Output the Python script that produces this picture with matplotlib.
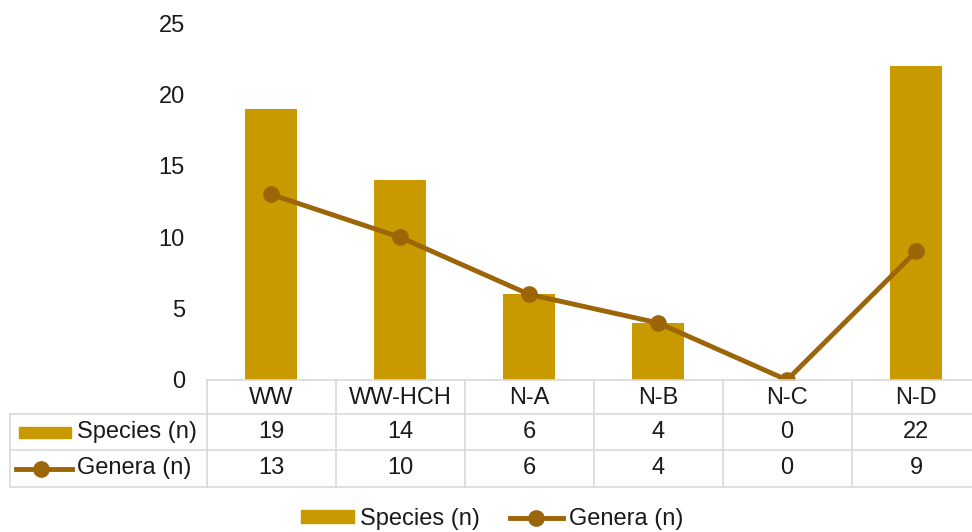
import matplotlib
matplotlib.use("Agg")
import matplotlib.pyplot as plt
from matplotlib.patches import Patch, Rectangle
from matplotlib.lines import Line2D

categories = ["WW", "WW-HCH", "N-A", "N-B", "N-C", "N-D"]
species = [19, 14, 6, 4, 0, 22]
genera = [13, 10, 6, 4, 0, 9]
series_names = ["Species (n)", "Genera (n)"]
yticks = [0, 5, 10, 15, 20, 25]

plt.rcParams['font.family'] = ['Liberation Sans', 'DejaVu Sans']
FS = 17
BAR_C = '#C99A00'
LINE_C = '#9C6508'
GRID_C = '#D9D9D9'
TXT_C = '#1a1a1a'
LW = 3.5
MS = 11

W, H = 972, 532
fig = plt.figure(figsize=(W / 100, H / 100), dpi=100)

def fx(px):
    return px / W

def fy(py):
    return py / H

# main plot area
ax = fig.add_axes([fx(206.5), fy(H - 380), fx(774), fy(357)])
x = list(range(len(categories)))
ax.bar(x, species, width=0.4, color=BAR_C, zorder=2)
ax.plot(x, genera, color=LINE_C, lw=LW, marker='o', markersize=MS, zorder=3)
ax.set_xlim(-0.5, 5.5)
ax.set_ylim(0, 25)
ax.set_yticks(yticks)
ax.set_yticklabels([str(v) for v in yticks], fontsize=FS, color=TXT_C)
ax.tick_params(axis='y', length=0, pad=15.5)
ax.set_xticks([])
for s in ax.spines.values():
    s.set_visible(False)

# data table
cell_w = 129.0
left_px = 10.0
xl = -0.5 - (206.5 - left_px) / cell_w
tax = fig.add_axes([fx(left_px), fy(H - 487), fx(980.5 - left_px), fy(107)])
tax.set_xlim(xl, 5.5)
tax.set_ylim(107, 0)
tax.axis('off')
rows = [0, 34, 70, 107]
lw = 1.2
tax.plot([-0.5, 5.5], [rows[0], rows[0]], color=GRID_C, lw=lw, clip_on=False)
for r in rows[1:]:
    tax.plot([xl, 5.5], [r, r], color=GRID_C, lw=lw, clip_on=False)
tax.plot([xl, xl], [rows[1], rows[3]], color=GRID_C, lw=lw, clip_on=False)
for i in range(len(categories) + 1):
    xv = -0.5 + i
    tax.plot([xv, xv], [rows[0], rows[3]], color=GRID_C, lw=lw, clip_on=False)

for i, c in enumerate(categories):
    tax.text(i, 17.5, c, ha='center', va='center', fontsize=FS, color=TXT_C)
    tax.text(i, 52, str(species[i]), ha='center', va='center', fontsize=FS, color=TXT_C)
    tax.text(i, 88, str(genera[i]), ha='center', va='center', fontsize=FS, color=TXT_C)

def px2x(px):
    return xl + (px - left_px) / cell_w

tax.add_patch(Rectangle((px2x(19), 46.5), px2x(71) - px2x(19), 11, color=BAR_C, clip_on=False))
tax.text(px2x(77), 52, series_names[0], ha='left', va='center', fontsize=FS, color=TXT_C)
tax.plot([px2x(16), px2x(72)], [89, 89], color=LINE_C, lw=LW, clip_on=False)
tax.plot([px2x(41)], [89], marker='o', color=LINE_C, markersize=MS, clip_on=False)
tax.text(px2x(77), 88, series_names[1], ha='left', va='center', fontsize=FS, color=TXT_C)

# bottom legend
handles = [Patch(color=BAR_C), Line2D([0], [0], color=LINE_C, lw=LW, marker='o', markersize=MS)]
fig.legend(handles, series_names, loc='center', bbox_to_anchor=(fx(492), fy(13)),
           ncol=2, frameon=False, fontsize=FS, handlelength=2.25, handleheight=0.46,
           handletextpad=0.25, columnspacing=1.27, labelcolor=TXT_C,
           borderpad=0, borderaxespad=0)

fig.savefig("out.png", dpi=100)
